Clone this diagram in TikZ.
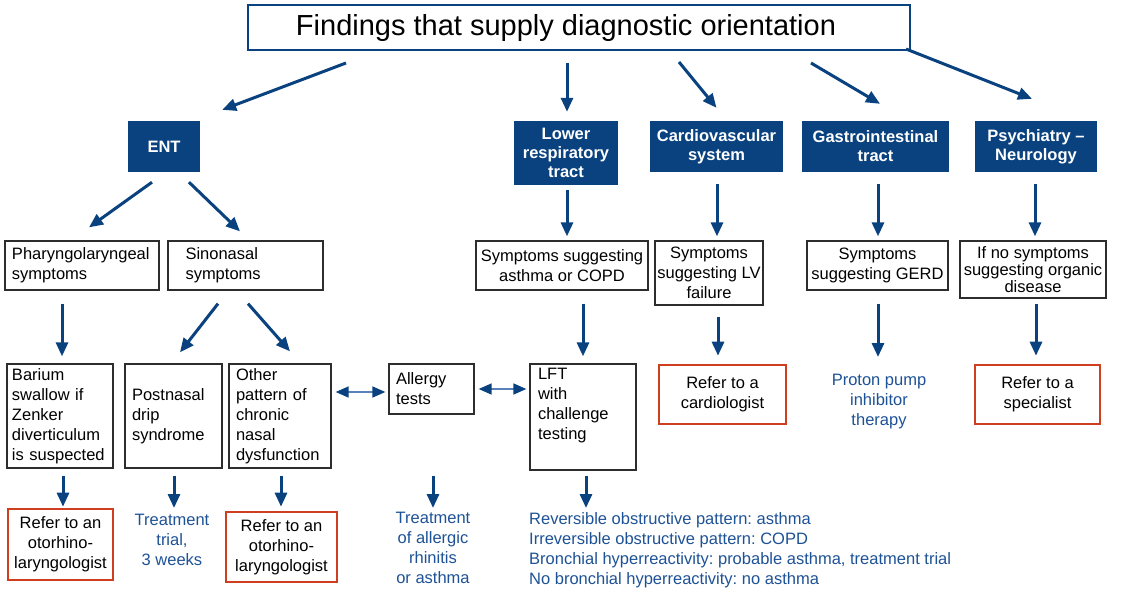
\documentclass[tikz,border=0pt]{standalone}
\usepackage{fontspec}
\setmainfont{Liberation Sans}
\usetikzlibrary{arrows.meta,calc}
\definecolor{dkblue}{RGB}{10,66,128}
\definecolor{ltblue}{RGB}{90,130,185}
\definecolor{txtblue}{RGB}{30,82,150}
\definecolor{refred}{RGB}{208,62,32}
\definecolor{boxgray}{RGB}{45,45,45}
\newcommand{\bodyfont}{\fontsize{16.5}{20}\selectfont}
\frenchspacing
\hyphenpenalty=10000
\exhyphenpenalty=10000
\tikzset{
  ttl/.style={draw=dkblue, line width=2pt, font=\fontsize{29}{32}\selectfont, inner sep=0pt},
  hdr/.style={fill=dkblue, text=white, font=\bfseries\fontsize{16.5}{19}\selectfont, align=center, inner sep=0pt},
  bx/.style={draw=boxgray, line width=1.3pt, font=\bodyfont, inner sep=0pt},
  refbox/.style={draw=refred, line width=2.6pt, font=\bodyfont, align=center, inner sep=0pt},
  outtxt/.style={text=txtblue, font=\bodyfont, align=center, inner sep=0pt},
  arr/.style={draw=dkblue, line width=3pt, -{Triangle[length=14pt,width=12pt]}},
  darr/.style={draw=ltblue, line width=1.5pt, {Triangle[length=13pt,width=11pt,color=dkblue]}-{Triangle[length=13pt,width=11pt,color=dkblue]}}
}
\begin{document}
\begin{tikzpicture}[x=1pt,y=-1pt]
\fill[white] (0,0) rectangle (1128,606);
\useasboundingbox (0,0) rectangle (1128,606);

% title
\node[ttl, minimum width=662, minimum height=45] (title) at (579,27.5) {Findings that supply diagnostic orientation\hspace*{26pt}\rule[-6pt]{0pt}{25pt}};

% headers
\node[hdr, minimum width=72, minimum height=51] (ent) at (164,146.5) {ENT};
\node[hdr, minimum width=104, minimum height=64] (lrt) at (566,153) {Lower\\respiratory\\tract};
\node[hdr, minimum width=133, minimum height=51] (cvs) at (716.5,146.5) {Cardiovascular\\system};
\node[hdr, minimum width=147, minimum height=51] (git) at (875.5,146.5) {Gastrointestinal\\tract};
\node[hdr, minimum width=122, minimum height=51] (psy) at (1036,146.5) {Psychiatry –\\Neurology};

% level 2
\node[bx, align=left, text width=140, minimum width=154, minimum height=49] (phx) at (82,265.5) {Pharyngolaryngeal\\symptoms};
\node[bx, align=left, text width=120, minimum width=155, minimum height=49] (sin) at (245.5,265.5) {Sinonasal\\symptoms};
\node[bx, align=center, minimum width=172, minimum height=49] (asth) at (562,265.5) {Symptoms suggesting\\asthma or COPD};
\node[bx, align=center, minimum width=108, minimum height=64] (lvf) at (709,273) {Symptoms\\suggesting LV\\failure};
\node[bx, align=center, minimum width=141, minimum height=49] (gerd) at (877.5,265.5) {Symptoms\\suggesting GERD};
\node[bx, align=center, font=\fontsize{16.5}{17}\selectfont, minimum width=146, minimum height=57] (nosy) at (1033,269.5) {If no symptoms\\suggesting organic\\disease};

% level 3
\node[bx, align=left, text width=96, minimum width=106, minimum height=104] (bar) at (60,416) {Barium\\swallow if\\Zenker\\diverticulum\\is suspected};
\node[bx, align=left, text width=83, minimum width=97, minimum height=104] (pnd) at (173.5,416) {Postnasal\\drip\\syndrome};
\node[bx, align=left, text width=88, minimum width=102, minimum height=104] (oth) at (280,416) {Other\\pattern of\\chronic\\nasal\\dysfunction};
\node[bx, align=left, text width=71, minimum width=85, minimum height=50] (alg) at (431.5,389) {Allergy\\tests};
\node[bx, align=left, text width=90, minimum width=106, minimum height=106] (lft) at (583,417) {LFT\\with\\challenge\\testing\\\strut};
\node[refbox, minimum width=127, minimum height=59] (card) at (722.5,394.5) {Refer to a\\cardiologist};
\node[outtxt, anchor=north] (ppi) at (879,374) {Proton pump\\inhibitor\\therapy};
\node[refbox, minimum width=125, minimum height=59] (spec) at (1037.5,394.5) {Refer to a\\specialist};

% level 4
\node[refbox, minimum width=105, minimum height=71] (ent1) at (60.5,544.5) {Refer to an\\otorhino-\\laryngologist};
\node[outtxt, anchor=north] (trt) at (172,514) {Treatment\\trial,\\3 weeks};
\node[refbox, minimum width=111, minimum height=70] (ent2) at (281.5,547) {Refer to an\\otorhino-\\laryngologist};
\node[outtxt, anchor=north] (tal) at (433,512) {Treatment\\of allergic\\rhinitis\\or asthma};
\node[outtxt, align=left, anchor=north west] (res) at (529,512) {Reversible obstructive pattern: asthma\\Irreversible obstructive pattern: COPD\\Bronchial hyperreactivity: probable asthma, treatment trial\\No bronchial hyperreactivity: no asthma};

% arrows from title
\draw[arr] ([shift={(99,12)}]title.south west) -- ([shift={(22,-11)}]ent.north east);
\draw[arr] ([shift={(-12,12)}]title.south) -- ([shift={(1,-9)}]lrt.north);
\draw[arr] ([shift={(100,11)}]title.south) -- ([shift={(0,-13)}]cvs.north);
\draw[arr] ([shift={(232,12)}]title.south) -- ([shift={(4.5,-17)}]git.north);
\draw[arr] ([shift={(-5,-2)}]title.south east) -- ([shift={(-4,-22)}]psy.north);

% headers to level 2
\draw[arr] ([shift={(-12,10)}]ent.south) -- ([shift={(7,-13)}]phx.north);
\draw[arr] ([shift={(25,10)}]ent.south) -- ([shift={(-5.5,-9)}]sin.north);
\draw[arr] ([shift={(1,5)}]lrt.south) -- ([shift={(5,-4)}]asth.north);
\draw[arr] ([shift={(0.5,12)}]cvs.south) -- ([shift={(8,-4)}]lvf.north);
\draw[arr] ([shift={(2.5,12)}]git.south) -- ([shift={(0.5,-4)}]gerd.north);
\draw[arr] ([shift={(-1,12)}]psy.south) -- ([shift={(2,-4)}]nosy.north);

% level 2 to level 3
\draw[arr] ([shift={(-20,13)}]phx.south) -- ([shift={(2,-7)}]bar.north);
\draw[arr] ([shift={(-27.5,13)}]sin.south) -- ([shift={(6.5,-11)}]pnd.north);
\draw[arr] ([shift={(2.5,13)}]sin.south) -- ([shift={(10,-12)}]oth.north);
\draw[arr] ([shift={(21,13)}]asth.south) -- ([shift={(0,-7)}]lft.north);
\draw[arr] ([shift={(9,11)}]lvf.south) -- ([shift={(-4.5,-8)}]card.north);
\draw[arr] ([shift={(0.5,13)}]gerd.south) -- ([shift={(-1,-17)}]ppi.north);
\draw[arr] ([shift={(3,5)}]nosy.south) -- ([shift={(-1.5,-8)}]spec.north);

% double arrows
\draw[darr] ([shift={(4,-24)}]oth.east) -- ([shift={(-3,3)}]alg.west);
\draw[darr] ([shift={(4,0)}]alg.east) -- ([shift={(-3,-28)}]lft.west);

% level 3 to level 4
\draw[arr] ([shift={(3,7)}]bar.south) -- ([shift={(2.5,-1)}]ent1.north);
\draw[arr] ([shift={(0.5,7)}]pnd.south) -- ([shift={(2,-6)}]trt.north);
\draw[arr] ([shift={(1,7)}]oth.south) -- ([shift={(-0.5,-4)}]ent2.north);
\draw[arr] ([shift={(1.5,61)}]alg.south) -- ([shift={(0,-4)}]tal.north);
\draw[arr] ([shift={(3,5)}]lft.south) -- ([shift={(57,-4)}]res.north west);
\end{tikzpicture}
\end{document}
